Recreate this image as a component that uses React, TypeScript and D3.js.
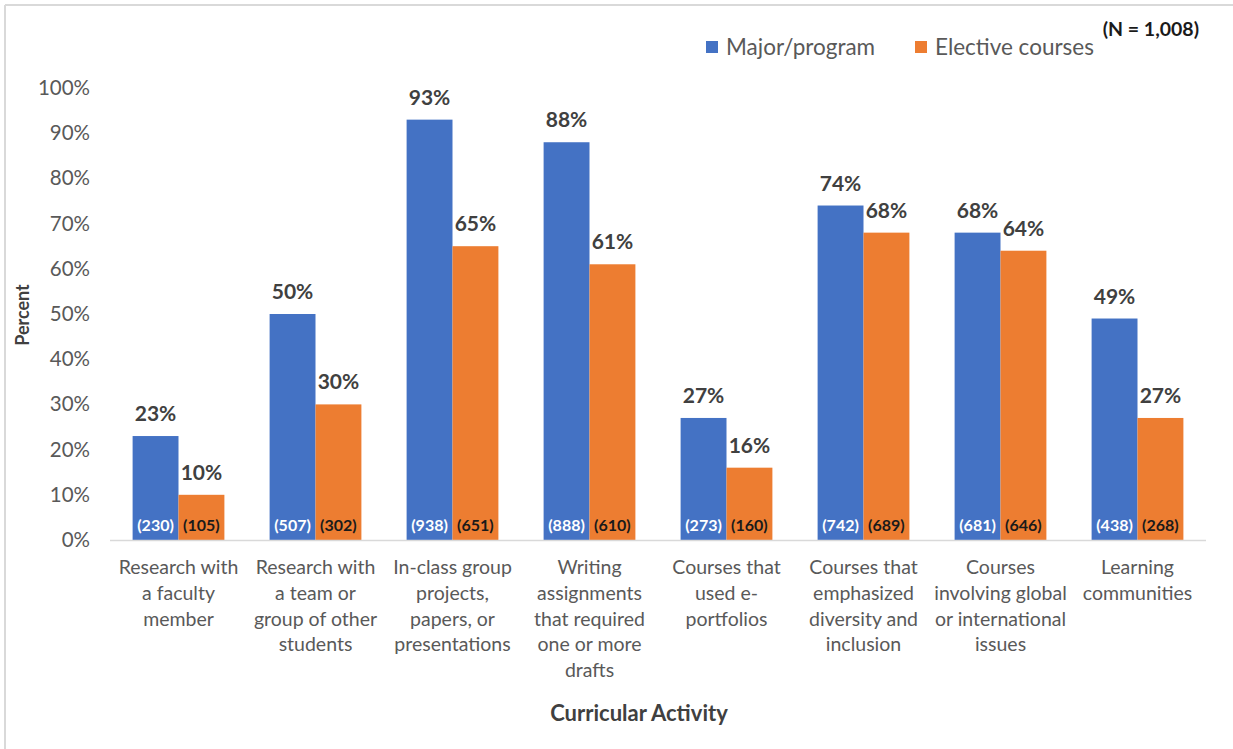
import React from "react";
import * as d3 from "d3";

const categories = [
  ["Research with", "a faculty", "member"],
  ["Research with", "a team or", "group of other", "students"],
  ["In-class group", "projects,", "papers, or", "presentations"],
  ["Writing", "assignments", "that required", "one or more", "drafts"],
  ["Courses that", "used e-", "portfolios"],
  ["Courses that", "emphasized", "diversity and", "inclusion"],
  ["Courses", "involving global", "or international", "issues"],
  ["Learning", "communities"],
];
const seriesNames = ["Major/program", "Elective courses"];
const majorValues = [23, 50, 93, 88, 27, 74, 68, 49];
const electiveValues = [10, 30, 65, 61, 16, 68, 64, 27];
const majorCounts = [230, 507, 938, 888, 273, 742, 681, 438];
const electiveCounts = [105, 302, 651, 610, 160, 689, 646, 268];
const yTicks = [0, 10, 20, 30, 40, 50, 60, 70, 80, 90, 100];
const colors = ["#4472C4", "#ED7D31"];
const FONT = "Lato, 'Open Sans', sans-serif";

export default function App() {
  const W = 1233, H = 749;
  const idx = categories.map((_, i) => String(i));
  const x0 = d3.scaleBand().domain(idx).range([110, 1206]).paddingInner(0.33).paddingOuter(0.165);
  const x1 = d3.scaleBand().domain(["0", "1"]).range([0, x0.bandwidth()]);
  const y = d3.scaleLinear().domain([0, 100]).range([540, 88]);
  const values = [majorValues, electiveValues];
  const counts = [majorCounts, electiveCounts];

  return (
    <svg width={W} height={H} style={{ position: "absolute", left: 0, top: 0, background: "#fff" }} fontFamily={FONT}>
      <rect x={0} y={0} width={W} height={H} fill="#fff" />
      <line x1={5} y1={5} x2={W} y2={5} stroke="#d9d9d9" strokeWidth={2} />
      <line x1={5} y1={5} x2={5} y2={H} stroke="#d9d9d9" strokeWidth={2} />

      {/* y ticks */}
      {yTicks.map((t) => (
        <text key={t} x={90} y={y(t) + 7} textAnchor="end" fontSize={20.5} fill="#595959">
          {t}%
        </text>
      ))}
      <text transform={`translate(29,${315}) rotate(-90)`} textAnchor="middle" fontSize={18} fontWeight="bold" fill="#404040">
        Percent
      </text>

      {/* bars */}
      {idx.map((c, i) => (
        <g key={c} transform={`translate(${x0(c)},0)`}>
          {[0, 1].map((s) => {
            const bx = x1(String(s))!;
            const bw = x1.bandwidth();
            const v = values[s][i];
            return (
              <g key={s}>
                <rect x={bx} y={y(v)} width={bw} height={y(0) - y(v)} fill={colors[s]} />
                <text x={bx + bw / 2} y={y(v) - 15} textAnchor="middle" fontSize={21} fontWeight="bold" fill="#404040">
                  {v}%
                </text>
                <text x={bx + bw / 2} y={y(0) - 9} textAnchor="middle" fontSize={16} fontWeight="bold" fill={s === 0 ? "#ffffff" : "#1a1a1a"}>
                  ({counts[s][i]})
                </text>
              </g>
            );
          })}
        </g>
      ))}

      {/* axis line */}
      <line x1={110} x2={1206} y1={y(0) + 0.5} y2={y(0) + 0.5} stroke="#d9d9d9" strokeWidth={1.5} />

      {/* category labels */}
      {categories.map((lines, i) => (
        <text key={i} x={x0(String(i))! + x0.bandwidth() / 2} textAnchor="middle" fontSize={19.5} fill="#595959">
          {lines.map((l, j) => (
            <tspan key={j} x={x0(String(i))! + x0.bandwidth() / 2} y={574 + j * 25.8}>
              {l}
            </tspan>
          ))}
        </text>
      ))}

      <text x={639} y={721} textAnchor="middle" fontSize={22} fontWeight="bold" fill="#404040">
        Curricular Activity
      </text>

      {/* legend */}
      {seriesNames.map((n, i) => {
        const lx = [706, 915][i];
        return (
          <g key={n}>
            <rect x={lx} y={41} width={12} height={12} fill={colors[i]} />
            <text x={lx + 20} y={55} fontSize={22.5} fill="#595959">
              {n}
            </text>
          </g>
        );
      })}
      <text x={1199} y={36} textAnchor="end" fontSize={19.5} fontWeight="bold" fill="#1a1a1a">
        (N = 1,008)
      </text>
    </svg>
  );
}
